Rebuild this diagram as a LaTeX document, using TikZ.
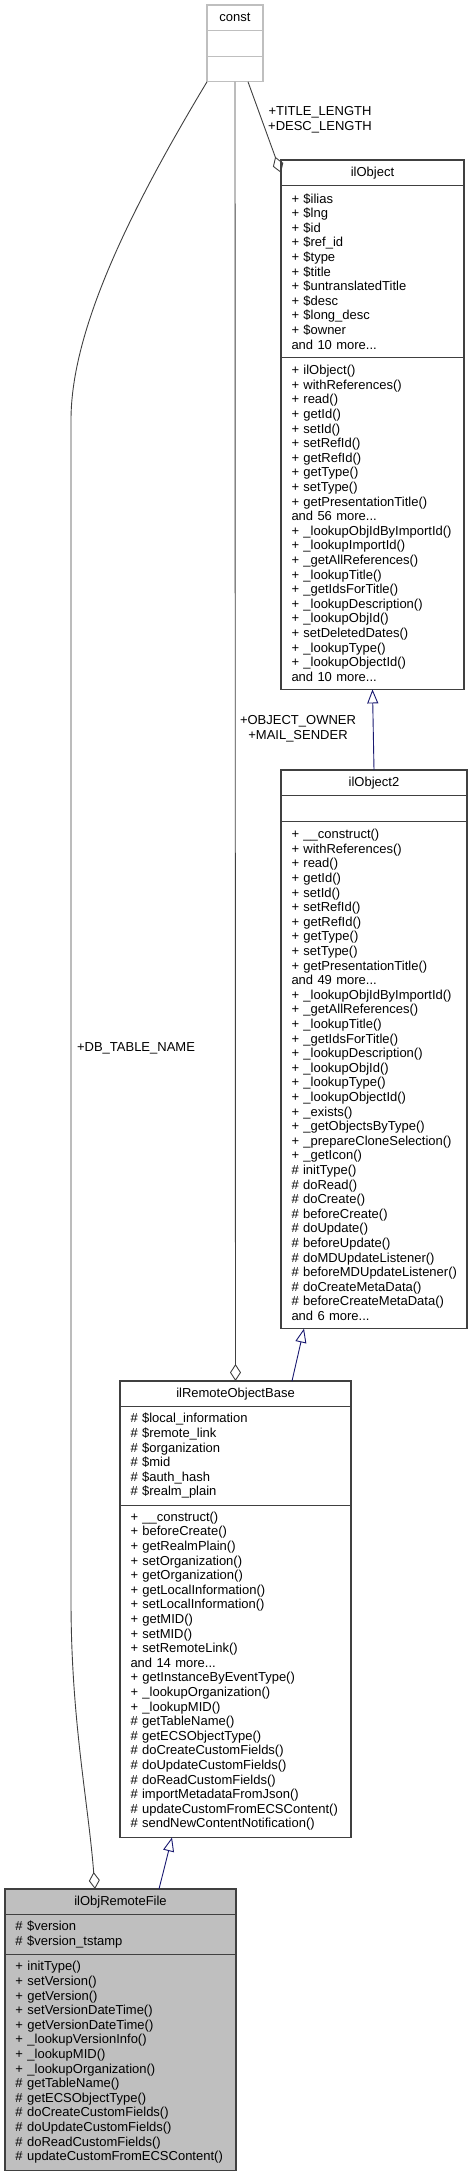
\documentclass[tikz,border=0pt]{standalone}
\usepackage{fontspec}
\newfontfamily\umlfont{Liberation Sans}
\usepackage{xcolor}
\usepackage{tikz}
\usetikzlibrary{positioning}
\usetikzlibrary{arrows.meta}
\definecolor{boxgray}{HTML}{404040}
\definecolor{constgray}{HTML}{BFBFBF}
\definecolor{basefill}{HTML}{BFBFBF}
\definecolor{inheritblue}{HTML}{191970}
\newcommand\umlsize{\umlfont\fontsize{13}{14.6}\selectfont}

\begin{document}
\begin{tikzpicture}[x=1pt,y=-1pt,
clsbox/.style={draw=boxgray,line width=1.1pt,inner sep=0pt,outer sep=0pt,font=\umlsize},
clstitle/.style={clsbox,minimum height=25.6pt,align=center},
clsrows/.style={clsbox,minimum height={#1*14.6pt+11pt},inner xsep=10.5pt,inner ysep=0pt,align=left,
  execute at begin node={\rightskip=0pt plus 2em minus 40pt\hyphenpenalty=10000}},
usage/.style={draw=boxgray,line width=0.9pt,-{Diamond[open,length=17pt,width=11pt]}},
inherit/.style={draw=inheritblue,line width=0.9pt,-{Triangle[open,length=14pt,width=11pt]}},
edgelabel/.style={font=\umlsize,align=center,inner sep=0pt}]
\useasboundingbox (0,0) rectangle (473,2176);

%----------const
\node[clstitle,draw=constgray,minimum width=56pt,anchor=north west] (const) at (207,5) {const};
\node[clsrows=1,draw=constgray,text width=35pt,below=0pt of const] (const attr) {};
\node[clsrows=1,draw=constgray,text width=35pt,below=0pt of const attr] (const ops) {};

%----------ilObject
\node[clstitle,minimum width=183pt,anchor=north west] (ilObject) at (281,160) {ilObject};
\node[clsrows=11,text width=162pt,below=0pt of ilObject] (ilObject attr) {%
+ \$ilias\\+ \$lng\\+ \$id\\+ \$ref\_id\\+ \$type\\+ \$title\\+ \$untranslatedTitle\\%
+ \$desc\\+ \$long\_desc\\+ \$owner\\and 10 more...};
\node[clsrows=22,text width=162pt,below=0pt of ilObject attr] (ilObject ops) {%
+ ilObject()\\+ withReferences()\\+ read()\\+ getId()\\+ setId()\\+ setRefId()\\%
+ getRefId()\\+ getType()\\+ setType()\\+ getPresentationTitle()\\and 56 more...\\%
+ \_lookupObjIdByImportId()\\+ \_lookupImportId()\\+ \_getAllReferences()\\%
+ \_lookupTitle()\\+ \_getIdsForTitle()\\+ \_lookupDescription()\\+ \_lookupObjId()\\%
+ setDeletedDates()\\+ \_lookupType()\\+ \_lookupObjectId()\\and 10 more...};

%----------ilObject2
\node[clstitle,minimum width=186pt,anchor=north west] (ilObject2) at (281,770) {ilObject2};
\node[clsrows=1,text width=165pt,below=0pt of ilObject2] (ilObject2 attr) {};
\node[clsrows=34,text width=165pt,below=0pt of ilObject2 attr] (ilObject2 ops) {%
+ \_\_construct()\\+ withReferences()\\+ read()\\+ getId()\\+ setId()\\+ setRefId()\\%
+ getRefId()\\+ getType()\\+ setType()\\+ getPresentationTitle()\\and 49 more...\\%
+ \_lookupObjIdByImportId()\\+ \_getAllReferences()\\+ \_lookupTitle()\\%
+ \_getIdsForTitle()\\+ \_lookupDescription()\\+ \_lookupObjId()\\+ \_lookupType()\\%
+ \_lookupObjectId()\\+ \_exists()\\+ \_getObjectsByType()\\+ \_prepareCloneSelection()\\%
+ \_getIcon()\\\# initType()\\\# doRead()\\\# doCreate()\\\# beforeCreate()\\%
\# doUpdate()\\\# beforeUpdate()\\\# doMDUpdateListener()\\\# beforeMDUpdateListener()\\%
\# doCreateMetaData()\\\# beforeCreateMetaData()\\and 6 more...};

%----------ilRemoteObjectBase
\node[clstitle,minimum width=231pt,anchor=north west] (ilRemoteObjectBase) at (120,1381) {ilRemoteObjectBase};
\node[clsrows=6,text width=210pt,below=0pt of ilRemoteObjectBase] (ilRemoteObjectBase attr) {%
\# \$local\_information\\\# \$remote\_link\\\# \$organization\\\# \$mid\\%
\# \$auth\_hash\\\# \$realm\_plain};
\node[clsrows=22,text width=210pt,below=0pt of ilRemoteObjectBase attr] (ilRemoteObjectBase ops) {%
+ \_\_construct()\\+ beforeCreate()\\+ getRealmPlain()\\+ setOrganization()\\%
+ getOrganization()\\+ getLocalInformation()\\+ setLocalInformation()\\+ getMID()\\%
+ setMID()\\+ setRemoteLink()\\and 14 more...\\+ getInstanceByEventType()\\%
+ \_lookupOrganization()\\+ \_lookupMID()\\\# getTableName()\\\# getECSObjectType()\\%
\# doCreateCustomFields()\\\# doUpdateCustomFields()\\\# doReadCustomFields()\\%
\# importMetadataFromJson()\\\# updateCustomFromECSContent()\\\# sendNewContentNotification()};

%----------ilObjRemoteFile
\node[clstitle,fill=basefill,minimum width=231pt,anchor=north west] (ilObjRemoteFile) at (5,1889) {ilObjRemoteFile};
\node[clsrows=2,fill=basefill,text width=210pt,below=0pt of ilObjRemoteFile] (ilObjRemoteFile attr) {%
\# \$version\\\# \$version\_tstamp};
\node[clsrows=14,fill=basefill,text width=210pt,below=0pt of ilObjRemoteFile attr] (ilObjRemoteFile ops) {%
+ initType()\\+ setVersion()\\+ getVersion()\\+ setVersionDateTime()\\%
+ getVersionDateTime()\\+ \_lookupVersionInfo()\\+ \_lookupMID()\\+ \_lookupOrganization()\\%
\# getTableName()\\\# getECSObjectType()\\\# doCreateCustomFields()\\%
\# doUpdateCustomFields()\\\# doReadCustomFields()\\\# updateCustomFromECSContent()};

%line:
\draw[inherit] (ilObject2.north) -- (ilObject ops.south);
\draw[inherit] ([xshift=172pt]ilRemoteObjectBase.north west) -- ([xshift=23pt]ilObject2 ops.south west);
\draw[inherit] ([xshift=154pt]ilObjRemoteFile.north west) -- ([xshift=52pt]ilRemoteObjectBase ops.south west);

%line:
\draw[usage] ([xshift=41pt]const ops.south west) -- (ilObject.west);
\draw[usage] (const ops.south) -- (ilRemoteObjectBase.north);
\draw[usage] (const ops.south west) .. controls (130,210) and (71,330) .. (71,420)
  -- (71,1600) .. controls (71,1720) and (88,1800) .. ([xshift=90pt]ilObjRemoteFile.north west);

\node[edgelabel] (title len) at (320,120) {+TITLE\_LENGTH\\+DESC\_LENGTH};
\node[edgelabel] (owner sender) at (298,729) {+OBJECT\_OWNER\\+MAIL\_SENDER};
\node[edgelabel] (table name) at (136,1048) {+DB\_TABLE\_NAME};

\end{tikzpicture}
\end{document}
